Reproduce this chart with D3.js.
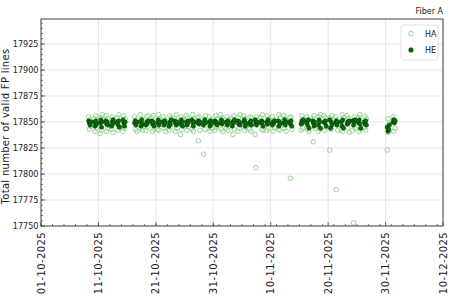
<!DOCTYPE html>
<html>
<head>
<meta charset="utf-8">
<script src="https://cdn.jsdelivr.net/npm/d3@7"></script>
<style>
  body { margin: 0; background: #fff; }
  svg { display: block; font-family: "DejaVu Sans", sans-serif; }
</style>
</head>
<body>
<svg id="chart" width="450" height="300"></svg>
<script>
// observation nights (one entry per night)
const days = [
    '2025-10-09', '2025-10-10', '2025-10-11', '2025-10-12', '2025-10-13', '2025-10-14', '2025-10-15',
    '2025-10-17', '2025-10-18', '2025-10-19', '2025-10-20', '2025-10-21', '2025-10-22', '2025-10-23',
    '2025-10-24', '2025-10-25', '2025-10-26', '2025-10-27', '2025-10-28', '2025-10-29', '2025-10-30',
    '2025-10-31', '2025-11-01', '2025-11-02', '2025-11-03', '2025-11-04', '2025-11-05', '2025-11-06',
    '2025-11-07', '2025-11-08', '2025-11-09', '2025-11-10', '2025-11-11', '2025-11-12', '2025-11-13',
    '2025-11-15', '2025-11-16', '2025-11-17', '2025-11-18', '2025-11-19', '2025-11-20', '2025-11-21',
    '2025-11-22', '2025-11-23', '2025-11-24', '2025-11-25', '2025-11-26', '2025-11-30', '2025-12-01'
];

// hour of each exposure within a night
const exposureHours = [7, 10, 13, 16];

// HE fiber A, number of valid FP lines per exposure
const heValues = [
    [17851, 17849, 17847, 17850], [17850, 17846, 17851, 17848], [17849, 17852, 17845, 17850],
    [17851, 17848, 17850, 17847], [17846, 17850, 17852, 17849], [17850, 17847, 17851, 17845],
    [17852, 17849, 17846, 17850], [17849, 17851, 17847, 17850], [17850, 17846, 17852, 17848],
    [17847, 17850, 17849, 17851], [17851, 17848, 17850, 17846], [17849, 17852, 17847, 17850],
    [17850, 17847, 17851, 17849], [17846, 17850, 17848, 17852], [17851, 17849, 17847, 17850],
    [17848, 17852, 17850, 17846], [17850, 17847, 17849, 17851], [17852, 17849, 17846, 17850],
    [17849, 17851, 17848, 17850], [17847, 17850, 17852, 17849], [17850, 17846, 17851, 17848],
    [17851, 17849, 17850, 17847], [17849, 17852, 17848, 17850], [17850, 17847, 17851, 17849],
    [17846, 17850, 17849, 17852], [17851, 17848, 17850, 17847], [17850, 17852, 17846, 17849],
    [17848, 17850, 17851, 17847], [17852, 17849, 17847, 17850], [17849, 17851, 17850, 17846],
    [17850, 17848, 17852, 17849], [17847, 17850, 17849, 17851], [17851, 17846, 17850, 17848],
    [17849, 17852, 17847, 17850], [17850, 17848, 17851, 17846], [17848, 17851, 17849, 17852],
    [17850, 17847, 17852, 17844], [17851, 17849, 17846, 17850], [17847, 17852, 17850, 17844],
    [17850, 17849, 17851, 17846], [17852, 17844, 17850, 17847], [17849, 17851, 17847, 17850],
    [17850, 17846, 17852, 17844], [17848, 17850, 17849, 17851], [17851, 17847, 17850, 17852],
    [17849, 17852, 17848, 17844], [17850, 17848, 17851, 17847], [17845, 17841, 17843, 17847],
    [17850, 17852, 17849, 17851]
];

// HA fiber A
const haValues = [
    [17855, 17843, 17852, 17846], [17853, 17841, 17856, 17844], [17839, 17854, 17842, 17857],
    [17856, 17841, 17853, 17844], [17843, 17855, 17840, 17852], [17854, 17842, 17857, 17845],
    [17841, 17856, 17844, 17853], [17855, 17843, 17852, 17841], [17857, 17844, 17853, 17842],
    [17842, 17855, 17845, 17856], [17854, 17841, 17856, 17843], [17843, 17857, 17842, 17853],
    [17855, 17844, 17852, 17841], [17842, 17856, 17845, 17854], [17853, 17841, 17857, 17844],
    [17838, 17855, 17843, 17852], [17856, 17842, 17854, 17845], [17843, 17857, 17841, 17853],
    [17854, 17832, 17855, 17842], [17819, 17853, 17843, 17856], [17855, 17841, 17852, 17844],
    [17842, 17856, 17845, 17853], [17857, 17843, 17854, 17841], [17844, 17855, 17842, 17852],
    [17853, 17838, 17856, 17843], [17841, 17854, 17844, 17857], [17856, 17842, 17853, 17845],
    [17843, 17855, 17841, 17854], [17838, 17806, 17855, 17852], [17854, 17843, 17857, 17842],
    [17842, 17856, 17844, 17853], [17855, 17841, 17852, 17845], [17843, 17857, 17842, 17854],
    [17856, 17844, 17853, 17841], [17854, 17796, 17855, 17843], [17842, 17856, 17844, 17853],
    [17855, 17843, 17852, 17841], [17853, 17831, 17856, 17844], [17841, 17855, 17843, 17857],
    [17856, 17842, 17854, 17845], [17823, 17854, 17843, 17856], [17855, 17785, 17852, 17842],
    [17843, 17857, 17841, 17854], [17856, 17844, 17853, 17840], [17842, 17753, 17855, 17844],
    [17854, 17841, 17857, 17843], [17845, 17855, 17842, 17853], [17823, 17853, 17840, 17848],
    [17855, 17841, 17852, 17844]
];

const xTickLabels = ['01-10-2025', '11-10-2025', '21-10-2025', '31-10-2025',
                     '10-11-2025', '20-11-2025', '30-11-2025', '10-12-2025'];
const yTicks = [17750, 17775, 17800, 17825, 17850, 17875, 17900, 17925];

const svg = d3.select('#chart');
const margin = { left: 41, top: 19, right: 7, bottom: 74 };
const width = 450 - margin.left - margin.right;
const height = 300 - margin.top - margin.bottom;

const parseDay = d3.utcParse('%Y-%m-%d');
const parseTick = d3.utcParse('%d-%m-%Y');
const xTicks = xTickLabels.map(parseTick);

const x = d3.scaleUtc()
    .domain([xTicks[0], xTicks[xTicks.length - 1]])
    .range([0, width]);
const y = d3.scaleLinear()
    .domain([17750, 17949])
    .range([height, 0]);

const g = svg.append('g')
    .attr('transform', `translate(${margin.left},${margin.top})`);

// grid
g.append('g').selectAll('line').data(xTicks).join('line')
    .attr('x1', d => x(d)).attr('x2', d => x(d))
    .attr('y1', 0).attr('y2', height)
    .attr('stroke', '#e3e3e3').attr('stroke-width', 0.9);
g.append('g').selectAll('line').data(yTicks).join('line')
    .attr('y1', d => y(d)).attr('y2', d => y(d))
    .attr('x1', 0).attr('x2', width)
    .attr('stroke', '#e3e3e3').attr('stroke-width', 0.9);

// flatten into points
function toPoints(values) {
    const pts = [];
    days.forEach((d, i) => {
        const day = parseDay(d);
        values[i].forEach((v, j) => {
            pts.push({ t: d3.utcHour.offset(day, exposureHours[j]), v: v });
        });
    });
    return pts;
}
const haPoints = toPoints(haValues);
const hePoints = toPoints(heValues);

const haColor = '#7dcb7d';
const heFill = '#056d05';
const heStroke = '#013a01';

g.append('g').selectAll('circle').data(haPoints).join('circle')
    .attr('cx', d => x(d.t)).attr('cy', d => y(d.v))
    .attr('r', 2.3)
    .attr('fill', 'none')
    .attr('stroke', haColor)
    .attr('stroke-width', 0.8);

g.append('g').selectAll('circle').data(hePoints).join('circle')
    .attr('cx', d => x(d.t)).attr('cy', d => y(d.v))
    .attr('r', 2.1)
    .attr('fill', heFill)
    .attr('stroke', heStroke)
    .attr('stroke-width', 0.6);

// axes with inward ticks
const xMinor = d3.utcDay.every(2).range(x.domain()[0], d3.utcHour.offset(x.domain()[1], 1));
const yMinor = d3.range(17750, 17950, 5);

const xAxis = g.append('g').attr('transform', `translate(0,${height})`);
xAxis.selectAll('.minor').data(xMinor).join('line')
    .attr('x1', d => x(d)).attr('x2', d => x(d))
    .attr('y1', 0).attr('y2', -2)
    .attr('stroke', '#444').attr('stroke-width', 0.7);
xAxis.selectAll('.major').data(xTicks).join('line')
    .attr('x1', d => x(d)).attr('x2', d => x(d))
    .attr('y1', 0).attr('y2', -4)
    .attr('stroke', '#444').attr('stroke-width', 0.8);
xAxis.selectAll('text').data(xTicks).join('text')
    .attr('transform', d => `translate(${x(d) + 3.5},6) rotate(-90)`)
    .attr('text-anchor', 'end')
    .attr('font-size', 10)
    .attr('letter-spacing', 0.4)
    .attr('fill', '#222')
    .text((d, i) => xTickLabels[i]);

const yAxis = g.append('g');
yAxis.selectAll('.minor').data(yMinor).join('line')
    .attr('y1', d => y(d)).attr('y2', d => y(d))
    .attr('x1', 0).attr('x2', 2)
    .attr('stroke', '#444').attr('stroke-width', 0.7);
yAxis.selectAll('.major').data(yTicks).join('line')
    .attr('y1', d => y(d)).attr('y2', d => y(d))
    .attr('x1', 0).attr('x2', 4)
    .attr('stroke', '#444').attr('stroke-width', 0.8);
yAxis.selectAll('text').data(yTicks).join('text')
    .attr('x', -2.5).attr('y', d => y(d) + 3.3)
    .attr('text-anchor', 'end')
    .attr('font-family', '"DejaVu Sans Condensed", "DejaVu Sans", sans-serif')
    .attr('font-size', 9)
    .attr('fill', '#222')
    .text(d => d);

// frame
g.append('rect')
    .attr('width', width).attr('height', height)
    .attr('fill', 'none').attr('stroke', '#444').attr('stroke-width', 1);

// y label
svg.append('text')
    .attr('transform', `translate(9,${margin.top + height / 2 + 4}) rotate(-90)`)
    .attr('text-anchor', 'middle')
    .attr('font-size', 10)
    .attr('letter-spacing', 0.3)
    .attr('fill', '#222')
    .text('Total number of valid FP lines');

// title
svg.append('text')
    .attr('x', margin.left + width).attr('y', 14)
    .attr('text-anchor', 'end')
    .attr('font-size', 8)
    .attr('fill', '#222')
    .text('Fiber A');

// legend
const legend = svg.append('g').attr('transform', 'translate(401,25)');
legend.append('rect')
    .attr('width', 37).attr('height', 35).attr('rx', 2.5)
    .attr('fill', '#fff').attr('stroke', '#d8d8d8').attr('stroke-width', 0.8);
legend.append('circle')
    .attr('cx', 10).attr('cy', 8.5).attr('r', 2.3)
    .attr('fill', 'none').attr('stroke', haColor).attr('stroke-width', 0.8);
legend.append('circle')
    .attr('cx', 10).attr('cy', 25).attr('r', 2.3)
    .attr('fill', heFill).attr('stroke', heStroke).attr('stroke-width', 0.6);
legend.append('text').attr('x', 24).attr('y', 11.5)
    .attr('font-size', 8).attr('fill', '#222').text('HA');
legend.append('text').attr('x', 24).attr('y', 28)
    .attr('font-size', 8).attr('fill', '#222').text('HE');
</script>
</body>
</html>
